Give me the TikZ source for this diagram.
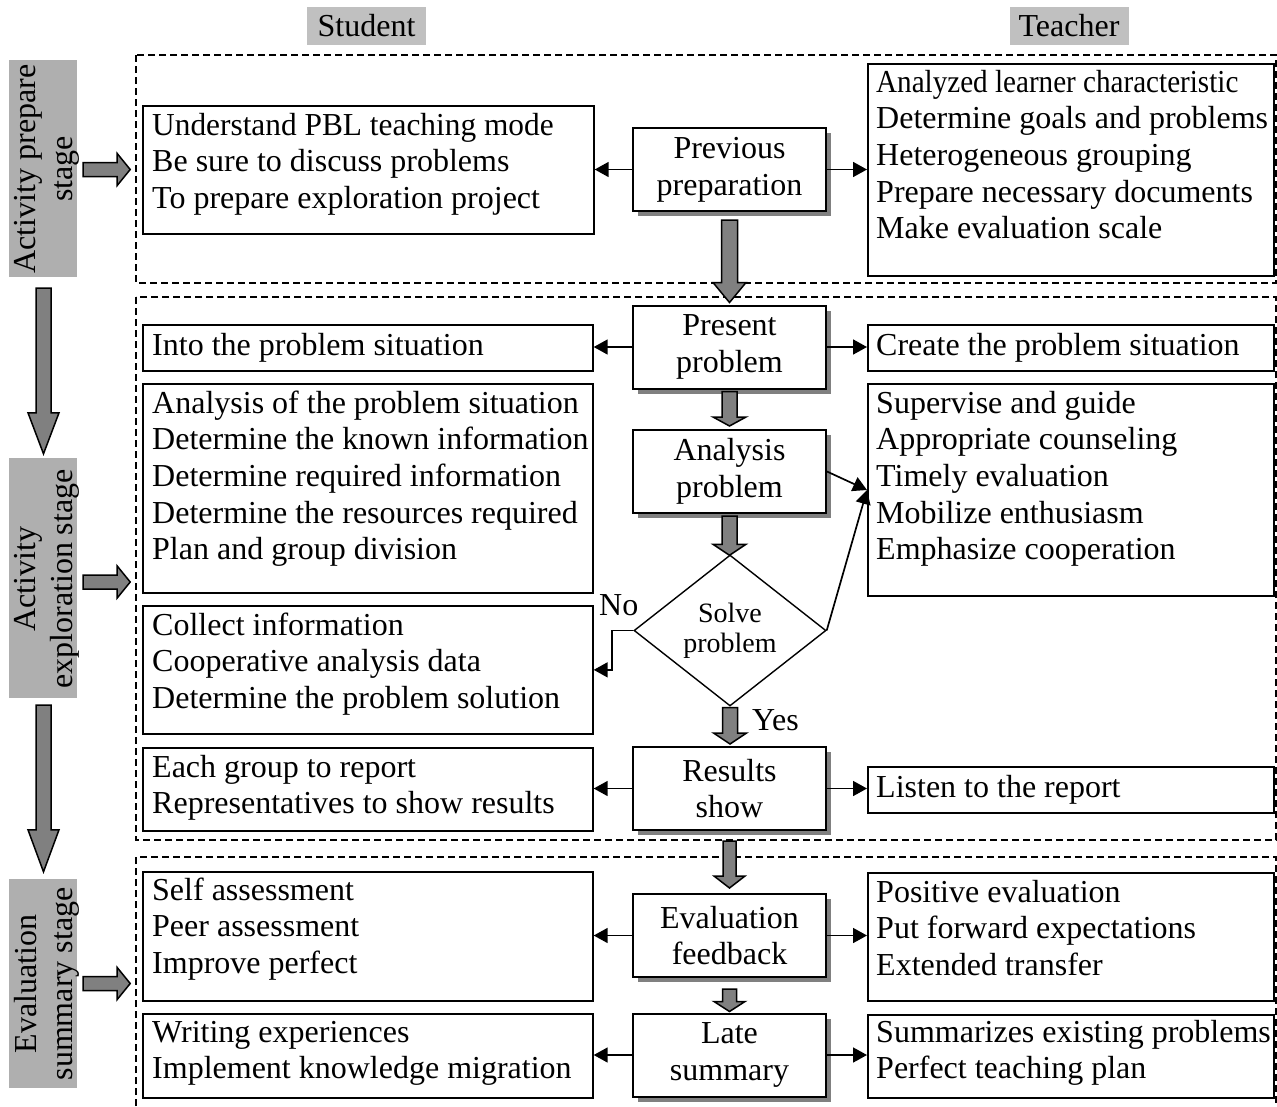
\documentclass[tikz,border=0pt]{standalone}
\usepackage{fontspec}
\usepackage{graphicx}
\setmainfont{Liberation Serif}
\usetikzlibrary{arrows.meta,shapes.geometric,shadows,calc}
\definecolor{hdrgray}{HTML}{C0C0C0}
\definecolor{bargray}{HTML}{AFAFAF}
\definecolor{arrowgray}{HTML}{808080}
\definecolor{shadowgray}{HTML}{808080}
\begin{document}
\begin{tikzpicture}[x=1pt,y=-1pt,
  mainfont/.style={font=\fontsize{32}{36.7}\selectfont},
  frame/.style={draw, dash pattern=on 7pt off 4pt, line width=1.5pt},
  hdr/.style={fill=hdrgray, minimum width=119pt, minimum height=38pt, inner sep=0pt, mainfont},
  bar/.style={fill=bargray, minimum width=68pt, inner sep=0pt},
  barlbl/.style={rotate=90, align=center, inner sep=0pt, mainfont},
  proc/.style={draw, line width=2pt, fill=white, minimum width=193pt, minimum height=83pt,
    inner sep=0pt, align=center, mainfont,
    drop shadow={shadow xshift=5pt, shadow yshift=-5pt, fill=shadowgray, opacity=1}},
  lbox/.style={draw, line width=1.7pt, inner sep=0pt, anchor=north west},
  txt/.style={anchor=north west, align=left, inner sep=0pt, mainfont},
  lbl/.style={anchor=base west, inner sep=0pt, mainfont},
  conn/.style={line width=1.7pt, -{Triangle[length=14pt,width=15pt]}},
  blk/.style={draw, line width=1.5pt, fill=arrowgray, line join=miter},
  vblk/.style n args={3}{to path={let \p1=(\tikztostart),\p2=(\tikztotarget) in
    (\x1-#2,\y1) -- (\x1+#2,\y1) -- (\x1+#2,\y2+#1) -- (\x1+#3,\y2+#1) -- (\x1,\y2)
    -- (\x1-#3,\y2+#1) -- (\x1-#2,\y2+#1) -- cycle}},
  hblk/.style n args={3}{to path={let \p1=(\tikztostart),\p2=(\tikztotarget) in
    (\x1,\y1+#2) -- (\x2-#1,\y1+#2) -- (\x2-#1,\y1+#3) -- (\x2,\y1)
    -- (\x2-#1,\y1-#3) -- (\x2-#1,\y1-#2) -- (\x1,\y1-#2) -- cycle}}
]
\useasboundingbox (0,0) rectangle (1277,1106);

% headers
\node[hdr] (hs) at (366.5,26) {Student};
\node[hdr] (ht) at (1069,26) {Teacher};

% dashed stage frames
\draw[frame] (136,55) rectangle (1276,283);
\draw[frame] (136,297) rectangle (1276,840);
\draw[frame] (136,1106) -- (136,857) -- (1276,857) -- (1276,1106);

% stage bars
\node[bar, minimum height=217pt] (bar1) at (43,168.5) {};
\node[bar, minimum height=240pt] (bar2) at (43,578) {};
\node[bar, minimum height=209pt] (bar3) at (43,983.5) {};
\node[barlbl] (bar1t) at (47,169) {Activity prepare\\stage};
\node[barlbl] (bar2t) at (47,579) {Activity\\exploration stage};
\node[barlbl] (bar3t) at (47,984) {Evaluation\\summary stage};

\draw[blk] ($(bar1.south)+(0.5,11)$) to[vblk={41pt}{7.5pt}{15.5pt}] ($(bar2.north)+(0.5,-4)$);
\draw[blk] ($(bar2.south)+(0.5,7)$) to[vblk={42pt}{7.5pt}{15.5pt}] ($(bar3.north)+(0.5,-7)$);
\draw[blk] ($(bar1.east)+(6,1)$) to[hblk={13pt}{7pt}{16pt}] ($(bar1.east)+(53,1)$);
\draw[blk] ($(bar2.east)+(6,4)$) to[hblk={13pt}{7pt}{16pt}] ($(bar2.east)+(53,4)$);
\draw[blk] ($(bar3.east)+(6,0)$) to[hblk={13pt}{7pt}{16pt}] ($(bar3.east)+(53,0)$);

% process nodes
\node[proc] (prev) at (729.5,169.5) {Previous\\preparation};
\node[proc] (pres) at (729.5,347) {Present\\problem};
\node[proc] (ana) at (729.5,471.5) {Analysis\\problem};
\node[diamond, draw, line width=1.4pt, fill=white, minimum width=192pt, minimum height=151pt,
  inner sep=0pt, align=center, font=\fontsize{28}{30}\selectfont] (dia) at (730,630.5) {Solve\\problem};
\node[proc] (res) at (729.5,788.5) {Results\\show};
\node[proc] (eva) at (729.5,935.5) {Evaluation\\feedback};
\node[proc] (late) at (729.5,1055) {Late\\summary};

% student boxes
\node[lbox, minimum width=451pt, minimum height=128pt] (s1) at (142,105) {};
\node[txt] (s1t) at ($(s1.north west)+(10,4.3)$) {\strut \scalebox{0.98}[1]{Understand PBL teaching mode}\\Be sure to discuss problems\\To prepare exploration project};
\node[lbox, minimum width=450pt, minimum height=46pt] (s2a) at (142,324) {};
\node[txt] (s2at) at ($(s2a.north west)+(10,5.3)$) {\strut Into the problem situation};
\node[lbox, minimum width=450pt, minimum height=209pt] (s2b) at (142,383) {};
\node[txt] (s2bt) at ($(s2b.north west)+(10,4.3)$) {\strut Analysis of the problem situation\\Determine the known information\\Determine required information\\Determine the resources required\\Plan and group division};
\node[lbox, minimum width=450pt, minimum height=128pt] (s3) at (142,605) {};
\node[txt] (s3t) at ($(s3.north west)+(10,4.3)$) {\strut Collect information\\Cooperative analysis data\\Determine the problem solution};
\node[lbox, minimum width=450pt, minimum height=83pt] (s4) at (142,747) {};
\node[txt] (s4t) at ($(s4.north west)+(10,4.3)$) {\strut Each group to report\\Representatives to show results};
\node[lbox, minimum width=450pt, minimum height=129pt] (s5) at (142,871) {};
\node[txt] (s5t) at ($(s5.north west)+(10,3.3)$) {\strut Self assessment\\Peer assessment\\Improve perfect};
\node[lbox, minimum width=450pt, minimum height=84pt] (s6) at (142,1013) {};
\node[txt] (s6t) at ($(s6.north west)+(10,3.3)$) {\strut Writing experiences\\Implement knowledge migration};

% teacher boxes
\node[lbox, minimum width=406pt, minimum height=212pt] (t1) at (867,63) {};
\node[txt] (t1t) at ($(t1.north west)+(9,3.3)$) {\strut \scalebox{0.91}[1]{Analyzed learner characteristic}\\Determine goals and problems\\Heterogeneous grouping\\Prepare necessary documents\\Make evaluation scale};
\node[lbox, minimum width=406pt, minimum height=46pt] (t2a) at (867,324) {};
\node[txt] (t2at) at ($(t2a.north west)+(9,5.3)$) {\strut Create the problem situation};
\node[lbox, minimum width=406pt, minimum height=212pt] (t2b) at (867,383) {};
\node[txt] (t2bt) at ($(t2b.north west)+(9,4.3)$) {\strut Supervise and guide\\Appropriate counseling\\Timely evaluation\\Mobilize enthusiasm\\Emphasize cooperation};
\node[lbox, minimum width=406pt, minimum height=46pt] (t4) at (867,766) {};
\node[txt] (t4t) at ($(t4.north west)+(9,5.3)$) {\strut Listen to the report};
\node[lbox, minimum width=406pt, minimum height=128pt] (t5) at (867,872) {};
\node[txt] (t5t) at ($(t5.north west)+(9,4.3)$) {\strut Positive evaluation\\Put forward expectations\\Extended transfer};
\node[lbox, minimum width=406pt, minimum height=83pt] (t6) at (867,1014) {};
\node[txt] (t6t) at ($(t6.north west)+(9,2.3)$) {\strut Summarizes existing problems\\Perfect teaching plan};

% labels
\node[lbl] (nolbl) at (599,615) {No};
\node[lbl] (yeslbl) at (752,730) {Yes};

% thick down arrows
\draw[blk] ($(prev.south)+(0,8)$) to[vblk={20pt}{8pt}{16.5pt}] ($(pres.north)+(0,-2)$);
\draw[blk] ($(pres.south)+(0,2)$) to[vblk={9pt}{7.5pt}{16.5pt}] ($(ana.north)+(0,-3)$);
\draw[blk] ($(ana.south)+(0,2)$) to[vblk={11pt}{7.5pt}{16.5pt}] ($(dia.north)+(0,1)$);
\draw[blk] ($(dia.south)+(0,1)$) to[vblk={11pt}{7.5pt}{16.5pt}] ($(res.north)+(0,-2)$);
\draw[blk] ($(res.south)+(0,10)$) to[vblk={12pt}{6.5pt}{15.5pt}] ($(eva.north)+(0,-5)$);
\draw[blk] ($(eva.south)+(0,11)$) to[vblk={10pt}{7pt}{15.5pt}] ($(late.north)+(0,-1)$);

% connectors
\draw[conn] (prev.west) -- (prev.west -| s1.east);
\draw[conn] (prev.east) -- (prev.east -| t1.west);
\draw[conn] (pres.west) -- (pres.west -| s2a.east);
\draw[conn] (pres.east) -- (pres.east -| t2a.west);
\coordinate (t2in) at ($(t2b.north west)+(0,107)$);
\draw[conn] (ana.east) -- (t2in);
\draw[conn] (dia.east) -- (t2in);
\draw[conn] (dia.west) -- ++(-21,0) |- (s3.east);
\draw[conn] (res.west) -- (res.west -| s4.east);
\draw[conn] (res.east) -- (res.east -| t4.west);
\draw[conn] (eva.west) -- (eva.west -| s5.east);
\draw[conn] (eva.east) -- (eva.east -| t5.west);
\draw[conn] (late.west) -- (late.west -| s6.east);
\draw[conn] (late.east) -- (late.east -| t6.west);
\end{tikzpicture}
\end{document}
